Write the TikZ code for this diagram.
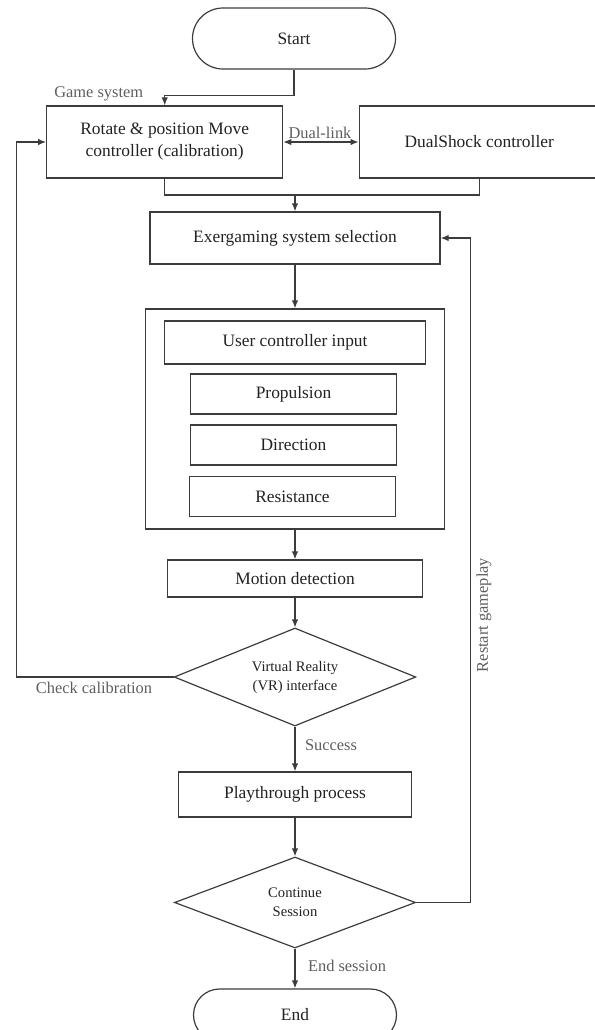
\documentclass[tikz,border=0pt]{standalone}
\usepackage{fontspec}
\setmainfont{Liberation Serif}
\usetikzlibrary{shapes.geometric, arrows.meta}

\definecolor{linegray}{HTML}{3C3C3C}
\definecolor{textgray}{HTML}{222222}
\definecolor{notegray}{HTML}{5E5E5E}

\begin{document}
\begin{tikzpicture}[
    x=0.5pt, y=-0.5pt,
    box/.style={rectangle, draw=linegray, line width=0.6pt, text=textgray, align=center, inner sep=0pt, font=\fontsize{8.7}{11}\selectfont},
    term/.style={box},
    decision/.style={diamond, draw=linegray, line width=0.6pt, text=textgray, aspect=2.4, inner sep=0pt, align=center, font=\fontsize{7.3}{9.5}\selectfont},
    note/.style={text=notegray, inner sep=0pt, font=\fontsize{8.2}{10}\selectfont},
    link/.style={draw=linegray, line width=0.6pt},
    arrow/.style={link, -{Latex[length=4pt,width=3.2pt]}},
    twoway/.style={link, {Latex[length=4pt,width=3.2pt]}-{Latex[length=4pt,width=3.2pt]}},
    ]
    \useasboundingbox (0,0) rectangle (595,1030);

    % Nodes
    \node[term, rounded corners=15.25pt, minimum width=101.5pt, minimum height=30.5pt] (start) at (294,38.5) {Start};
    \node[box, minimum width=118pt, minimum height=36pt] (rotate) at (164.7,142) {Rotate \& position Move\\controller (calibration)};
    \node[box, minimum width=120pt, minimum height=36pt] (dualshock) at (479.2,142) {DualShock controller};
    \node[box, minimum width=145pt, minimum height=26pt] (selection) at (295,238) {Exergaming system selection};
    \node[box, minimum width=149.4pt, minimum height=110pt] (inputgroup) at (295,419) {};
    \node[box, minimum width=130.75pt, minimum height=21.5pt] (userinput) at (295,342.5) {User controller input};
    \node[box, minimum width=103pt, minimum height=20pt] (propulsion) at (293.5,394) {Propulsion};
    \node[box, minimum width=103pt, minimum height=20pt] (direction) at (293.5,445) {Direction};
    \node[box, minimum width=103pt, minimum height=20pt] (resistance) at (292.5,496.5) {Resistance};
    \node[box, minimum width=127.2pt, minimum height=18.5pt] (motion) at (295,578.5) {Motion detection};
    \node[decision, minimum width=120.85pt, minimum height=49pt] (vr) at (295,677) {Virtual Reality\\(VR) interface};
    \node[box, minimum width=116.3pt, minimum height=22.5pt] (playthrough) at (295,794.5) {Playthrough process};
    \node[decision, minimum width=120.5pt, minimum height=45.5pt] (continue) at (295,902.5) {Continue\\Session};
    \node[term, rounded corners=13pt, minimum width=101.5pt, minimum height=26pt] (end) at (295,1015) {End};
    \coordinate (merge) at (295,195);

    % Labels
    \node[note] (gamesys) at (98.7,94) {Game system};
    \node[note] (duallink) at (320,133) {Dual-link};
    \node[note] (checkcal) at (94,688) {Check calibration};
    \node[note] (success) at (331,745) {Success};
    \node[note] (endsession) at (347,966) {End session};
    \node[note, rotate=90] (restart) at (484,615) {Restart gameplay};

    % Edges
    \draw[arrow] (start.south) -- ++(0,26) -| (rotate.north);
    \draw[twoway] (rotate.east) -- (dualshock.west);
    \draw[link] (rotate.south) |- (merge) -| (dualshock.south);
    \draw[arrow] (merge) -- (selection.north);
    \draw[arrow] (selection.south) -- (inputgroup.north);
    \draw[arrow] (inputgroup.south) -- (motion.north);
    \draw[arrow] (motion.south) -- (vr.north);
    \draw[arrow] (vr.west) -- ++(-156.8,0) |- (rotate.west);
    \draw[arrow] (vr.south) -- (playthrough.north);
    \draw[arrow] (playthrough.south) -- (continue.north);
    \draw[arrow] (continue.east) -- ++(54.5,0) |- (selection.east);
    \draw[arrow] (continue.south) -- (end.north);
\end{tikzpicture}
\end{document}
